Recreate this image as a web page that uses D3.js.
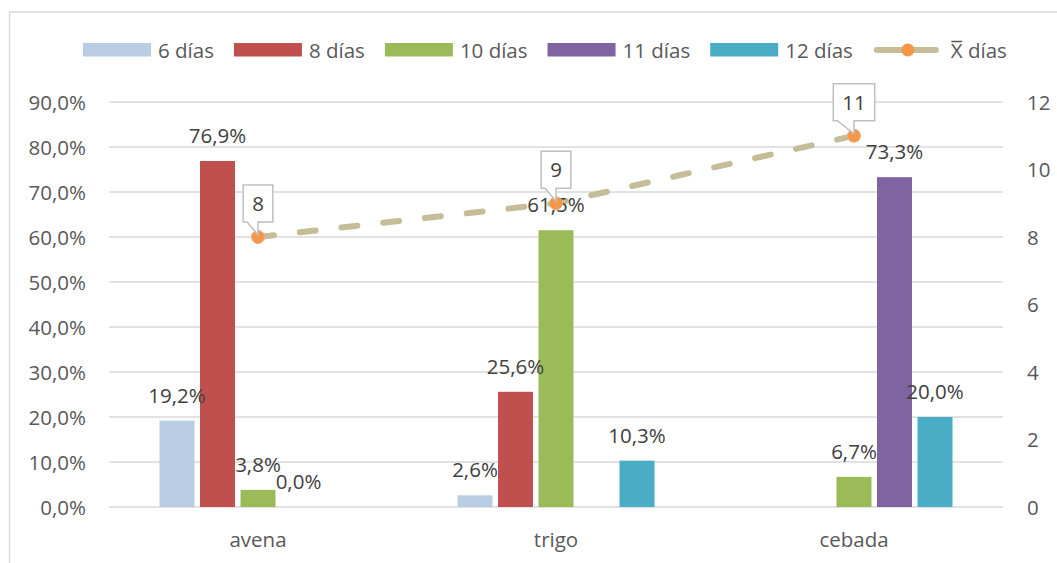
<!DOCTYPE html>
<html>
<head>
<meta charset="utf-8">
<script src="https://cdn.jsdelivr.net/npm/d3@7"></script>
<style>
  html, body { margin: 0; padding: 0; background: #fff; }
  svg { display: block; font-family: "Open Sans", sans-serif; }
</style>
</head>
<body>
<svg id="chart" width="1057" height="563"></svg>
<script>
// Categories and series
const categories = ["avena", "trigo", "cebada"];
const seriesNames = ["6 días", "8 días", "10 días", "11 días", "12 días"];
const seriesColors = ["#b9cde5", "#c0504d", "#9bbb59", "#8064a2", "#4bacc6"];

// Share of each category per number of days (percent); null = no bar
const dias6  = [19.2, 2.6, null];
const dias8  = [76.9, 25.6, null];
const dias10 = [3.8, 61.5, 6.7];
const dias11 = [0.0, null, 73.3];
const dias12 = [null, 10.3, 20.0];
const seriesValues = [dias6, dias8, dias10, dias11, dias12];

// Mean number of days per category (secondary axis); "X" is drawn with a bar over it
const meanName = "X días";
const meanDays = [8, 9, 11];

// Axis ticks
const leftTicks = [0, 10, 20, 30, 40, 50, 60, 70, 80, 90];
const rightTicks = [0, 2, 4, 6, 8, 10, 12];

const fmtPct = v => d3.format(".1f")(v).replace(".", ",") + "%";

const svg = d3.select("#chart");
const plot = { left: 109, right: 1003, top: 102, bottom: 507 };

// Outer chart frame
svg.append("rect")
  .attr("x", 9.5).attr("y", 12).attr("width", 1100).attr("height", 600)
  .attr("fill", "none").attr("stroke", "#d9d9d9").attr("stroke-width", 1.5);

const x0 = d3.scaleBand().domain(categories)
  .range([plot.left, plot.right]).paddingInner(0.339).paddingOuter(0.1695);
const x1 = d3.scaleBand().domain(seriesNames)
  .range([0, x0.bandwidth()]).paddingInner(0.136);
const yL = d3.scaleLinear().domain([0, 90]).range([plot.bottom, plot.top]);
const yR = d3.scaleLinear().domain([0, 12]).range([plot.bottom, plot.top]);

// Gridlines
svg.append("g").selectAll("line").data(leftTicks).join("line")
  .attr("x1", plot.left).attr("x2", plot.right)
  .attr("y1", d => yL(d)).attr("y2", d => yL(d))
  .attr("stroke", "#d9d9d9").attr("stroke-width", 1.3);

// Left axis
const axL = svg.append("g").attr("transform", `translate(${plot.left - 23},0)`)
  .call(d3.axisLeft(yL).tickValues(leftTicks).tickFormat(fmtPct).tickSize(0).tickPadding(0));
axL.select(".domain").remove();
axL.selectAll("text").attr("font-family", "Open Sans").attr("font-size", 20.5)
  .attr("fill", "#595959").attr("dy", "0.36em");

// Right axis
const axR = svg.append("g").attr("transform", `translate(${plot.right + 24},0)`)
  .call(d3.axisRight(yR).tickValues(rightTicks).tickFormat(d3.format("d")).tickSize(0).tickPadding(0));
axR.select(".domain").remove();
axR.selectAll("text").attr("font-family", "Open Sans").attr("font-size", 20.5)
  .attr("fill", "#595959").attr("dy", "0.36em");

// Category axis
const axB = svg.append("g").attr("transform", `translate(0,${plot.bottom})`)
  .call(d3.axisBottom(x0).tickSize(0).tickPadding(0));
axB.select(".domain").remove();
axB.selectAll("text").attr("font-family", "Open Sans").attr("font-size", 20.5)
  .attr("fill", "#595959").attr("dy", 0).attr("y", 40);

// Bars
const barData = [];
seriesNames.forEach((s, si) => {
  categories.forEach((c, ci) => {
    const v = seriesValues[si][ci];
    if (v !== null) barData.push({ s, si, c, v });
  });
});
svg.append("g").selectAll("rect").data(barData).join("rect")
  .attr("x", d => x0(d.c) + x1(d.s))
  .attr("width", x1.bandwidth())
  .attr("y", d => yL(d.v))
  .attr("height", d => yL(0) - yL(d.v))
  .attr("fill", d => seriesColors[d.si]);

// Mean line
const lineGen = d3.line()
  .x((d, i) => x0(categories[i]) + x0.bandwidth() / 2)
  .y(d => yR(d));
svg.append("path").datum(meanDays)
  .attr("d", lineGen)
  .attr("fill", "none").attr("stroke", "#c4bd97").attr("stroke-width", 6)
  .attr("stroke-linecap", "round").attr("stroke-dasharray", "16,26");

// Bar value labels
svg.append("g").selectAll("text").data(barData).join("text")
  .attr("x", d => x0(d.c) + x1(d.s) + x1.bandwidth() / 2)
  .attr("y", d => yL(d.v) - 18)
  .attr("text-anchor", "middle")
  .attr("font-size", 20.5).attr("fill", "#404040")
  .text(d => fmtPct(d.v));

// Mean markers
svg.append("g").selectAll("circle").data(meanDays).join("circle")
  .attr("cx", (d, i) => x0(categories[i]) + x0.bandwidth() / 2)
  .attr("cy", d => yR(d))
  .attr("r", 6.5)
  .attr("fill", "#f79646").attr("stroke", "#e3b27e").attr("stroke-width", 1);

// Callout labels for the mean
const callouts = svg.append("g");
meanDays.forEach((d, i) => {
  const px = x0(categories[i]) + x0.bandwidth() / 2;
  const py = yR(d);
  const g = callouts.append("g");
  const t = g.append("text")
    .attr("x", px).attr("y", py - 26)
    .attr("text-anchor", "middle")
    .attr("font-size", 20.5).attr("fill", "#404040")
    .text(d);
  const w = t.node().getComputedTextLength() + 18;
  const bx0 = px - w / 2, bx1 = px + w / 2;
  const by0 = py - 52, by1 = py - 15;
  g.insert("path", "text")
    .attr("d", `M${bx0},${by0}H${bx1}V${by1}H${px}L${px},${py - 2}L${bx0 + 4},${by1}H${bx0}Z`)
    .attr("fill", "#fff").attr("stroke", "#bfbfbf").attr("stroke-width", 1.5)
    .attr("stroke-linejoin", "miter");
});

// Legend
const legend = svg.append("g");
let lx = 83;
const ly = 50;
seriesNames.forEach((s, si) => {
  legend.append("rect").attr("x", lx).attr("y", ly - 7).attr("width", 68).attr("height", 13.5)
    .attr("fill", seriesColors[si]);
  const t = legend.append("text").attr("x", lx + 75).attr("y", ly + 7.5)
    .attr("font-size", 20.5).attr("fill", "#595959").text(s);
  lx += 75 + t.node().getComputedTextLength() + 20;
});
legend.append("line").attr("x1", lx + 4).attr("x2", lx + 63).attr("y1", ly).attr("y2", ly)
  .attr("stroke", "#c4bd97").attr("stroke-width", 6).attr("stroke-linecap", "round");
legend.append("circle").attr("cx", lx + 35).attr("cy", ly).attr("r", 6.5)
  .attr("fill", "#f79646");
const meanLabel = legend.append("text").attr("x", lx + 78).attr("y", ly + 7.5)
  .attr("font-size", 20.5).attr("fill", "#595959").text(meanName);
// Bar over the "X" of the mean label
const xWidth = meanLabel.node().getSubStringLength(0, 1);
legend.append("line")
  .attr("x1", lx + 78.5).attr("x2", lx + 78 + xWidth - 0.5)
  .attr("y1", ly - 8.5).attr("y2", ly - 8.5)
  .attr("stroke", "#595959").attr("stroke-width", 1.5);
</script>
</body>
</html>
